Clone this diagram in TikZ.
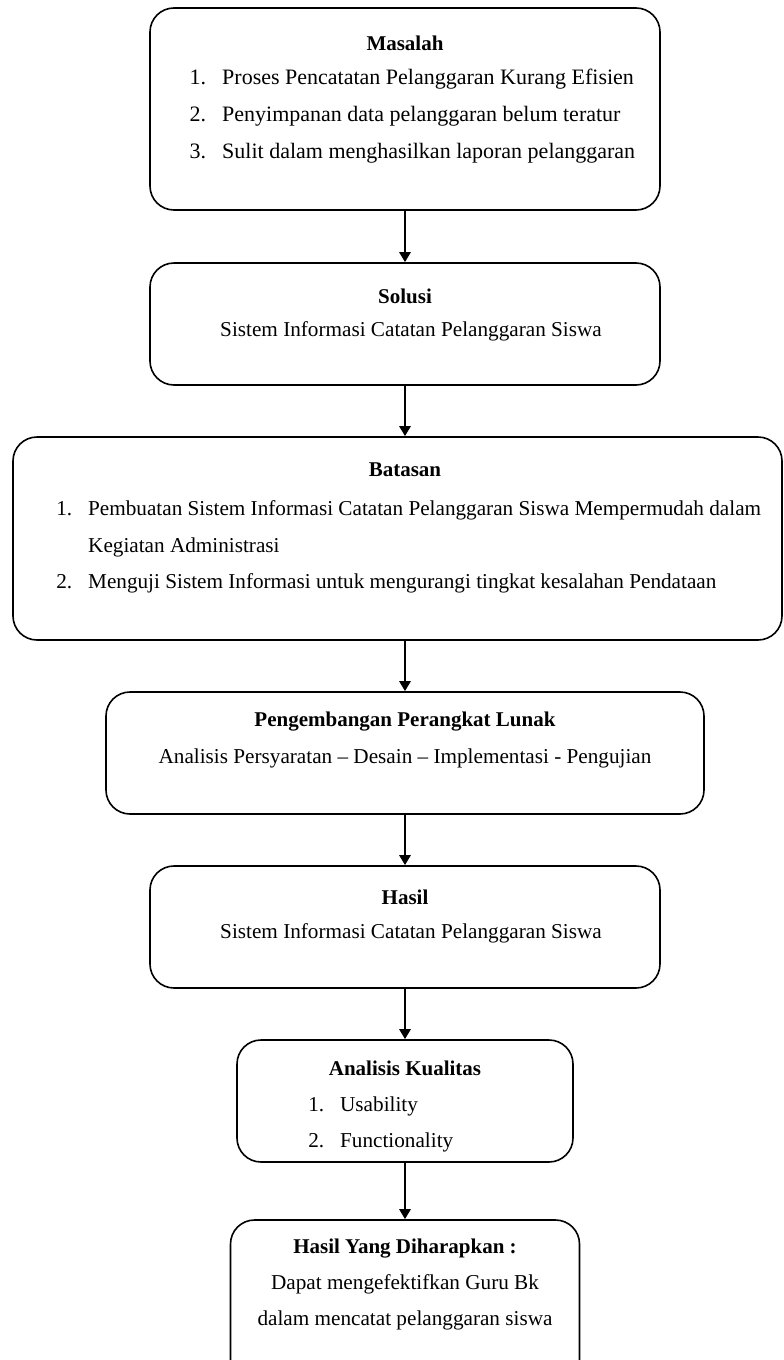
\documentclass[tikz,border=0pt]{standalone}
\usepackage{fontspec}
\setmainfont{Liberation Serif}
\usetikzlibrary{arrows.meta}
\newcommand\bodysize{\fontsize{21.2}{25}\selectfont}
% list label hanging to the left of the item text
\newcommand\lbl[1]{\makebox[0pt][r]{#1\hspace{16pt}}}
\tikzset{
  box/.style={draw, line width=1.6pt, rounded corners=24pt, inner sep=0pt},
  flow/.style={-{Triangle[length=10pt,width=11pt]}, line width=2.6pt},
  ttl/.style={font=\fontsize{21}{25}\selectfont\bfseries, inner sep=0pt},
  txt/.style={font=\bodysize, inner sep=0pt},
  item/.style={font=\bodysize, inner sep=0pt, anchor=base west},
  wide/.style={font=\fontsize{22}{26}\selectfont},
}
\begin{document}
\begin{tikzpicture}[x=1pt,y=-1pt]
\useasboundingbox (0,0) rectangle (784,1360);
\clip (0,0) rectangle (784,1360);

% boxes
\node[box, minimum width=510pt, minimum height=202pt] (masalah) at (405,109) {};
\node[box, minimum width=510pt, minimum height=122pt] (solusi) at (405,324) {};
\node[box, minimum width=769pt, minimum height=203pt] (batasan) at (397.5,538.5) {};
\node[box, minimum width=598pt, minimum height=122pt] (pengembangan) at (405,753) {};
\node[box, minimum width=510pt, minimum height=122pt] (hasil) at (405,927) {};
\node[box, minimum width=336pt, minimum height=122pt] (analisis) at (405,1101) {};
\node[box, minimum width=349pt, minimum height=170pt] (harapan) at (405,1305) {};

% connectors
\draw[flow] (masalah.south) -- (solusi.north);
\draw[flow] (solusi.south) -- (batasan.north -| solusi.south);
\draw[flow] (batasan.south -| solusi.south) -- (pengembangan.north);
\draw[flow] (pengembangan.south) -- (hasil.north);
\draw[flow] (hasil.south) -- (analisis.north);
\draw[flow] (analisis.south) -- (harapan.north);

% Masalah
\node[ttl] (m0) at (405,43) {Masalah};
\node[item, wide] (m1) at (222,84) {\lbl{1.}Proses Pencatatan Pelanggaran Kurang Efisien};
\node[item, wide] (m2) at (222,121) {\lbl{2.}Penyimpanan data pelanggaran belum teratur};
\node[item, wide] (m3) at (222,158) {\lbl{3.}Sulit dalam menghasilkan laporan pelanggaran};

% Solusi
\node[ttl] (s0) at (405,296) {Solusi};
\node[txt] (s1) at (411,331) {Sistem Informasi Catatan Pelanggaran Siswa};

% Batasan
\node[ttl] (b0) at (405,470) {Batasan};
\node[item] (b1) at (88,515) {\lbl{1.}Pembuatan Sistem Informasi Catatan Pelanggaran Siswa Mempermudah dalam};
\node[item] (b1b) at (88,552) {Kegiatan Administrasi};
\node[item] (b2) at (88,588) {\lbl{2.}Menguji Sistem Informasi untuk mengurangi tingkat kesalahan Pendataan};

% Pengembangan
\node[ttl] (p0) at (405,722) {Pengembangan Perangkat Lunak};
\node[txt] (p1) at (405,758) {Analisis Persyaratan -- Desain -- Implementasi - Pengujian};

% Hasil
\node[ttl] (h0) at (405,897) {Hasil};
\node[txt] (h1) at (411,933) {Sistem Informasi Catatan Pelanggaran Siswa};

% Analisis Kualitas
\node[ttl] (a0) at (405,1068) {Analisis Kualitas};
\node[item] (a1) at (340,1111) {\lbl{1.}Usability};
\node[item] (a2) at (340,1147) {\lbl{2.}Functionality};

% Hasil Yang Diharapkan
\node[ttl] (e0) at (405,1249) {Hasil Yang Diharapkan :};
\node[txt] (e1) at (405,1284) {Dapat mengefektifkan Guru Bk};
\node[txt] (e2) at (405,1320) {dalam mencatat pelanggaran siswa};
\end{tikzpicture}
\end{document}
